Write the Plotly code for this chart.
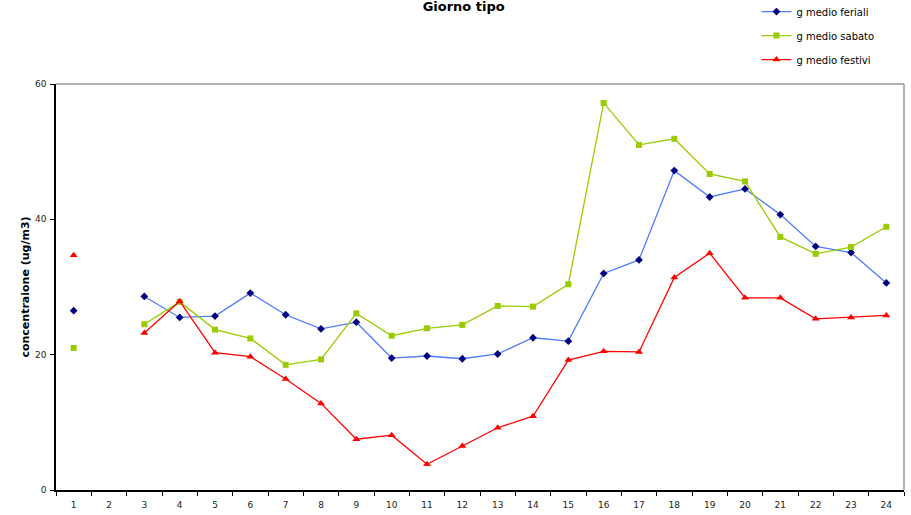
import plotly.graph_objects as go

hours = [str(h) for h in range(1, 25)]
feriali = [26.5, None, 28.6, 25.5, 25.7, 29.1, 25.9, 23.8, 24.8, 19.5, 19.8, 19.4,
           20.1, 22.5, 22.0, 32.0, 34.0, 47.2, 43.3, 44.5, 40.7, 36.0, 35.1, 30.6]
sabato = [21.0, None, 24.5, 27.8, 23.7, 22.4, 18.5, 19.3, 26.1, 22.8, 23.9, 24.4,
          27.2, 27.1, 30.4, 57.2, 51.0, 51.9, 46.7, 45.6, 37.4, 34.9, 35.9, 38.9]
festivi = [34.7, None, 23.2, 27.9, 20.3, 19.7, 16.4, 12.8, 7.5, 8.1, 3.8, 6.5,
           9.2, 10.9, 19.2, 20.5, 20.4, 31.4, 35.0, 28.4, 28.4, 25.3, 25.5, 25.8]
y_ticks = [0, 20, 40, 60]

FONT = "DejaVu Sans"

fig = go.Figure()
fig.add_trace(go.Scatter(x=hours, y=feriali, name="g medio feriali", mode="lines+markers",
                         line=dict(color="#4d7cff", width=1.3),
                         marker=dict(symbol="diamond", color="#000080", size=6),
                         legendgroup="a", connectgaps=False))
fig.add_trace(go.Scatter(x=hours, y=sabato, name="g medio sabato", mode="lines+markers",
                         line=dict(color="#99cc00", width=1.3),
                         marker=dict(symbol="square", color="#99cc00", size=6),
                         legendgroup="b", connectgaps=False))
fig.add_trace(go.Scatter(x=hours, y=festivi, name="g medio festivi", mode="lines+markers",
                         line=dict(color="#ff0000", width=1.3),
                         marker=dict(symbol="triangle-up", color="#ff0000", size=7),
                         legendgroup="c", connectgaps=False))

fig.update_layout(
    width=911, height=515,
    margin=dict(l=56, r=7, t=84, b=25, autoexpand=False),
    paper_bgcolor="white", plot_bgcolor="white",
    font=dict(family=FONT, size=9, color="#222222"),
    title=dict(text="<b>Giorno tipo</b>", x=0.509, xanchor="center", y=0.996, yanchor="top",
               pad=dict(t=0, b=0), font=dict(family=FONT, size=13, color="black")),
    legend=dict(x=0.826, xanchor="left", y=1.214, yanchor="top",
                font=dict(family=FONT, size=10, color="black"),
                traceorder="grouped", tracegroupgap=5, itemwidth=30,
                bgcolor="rgba(0,0,0,0)"),
    xaxis=dict(type="category", categoryorder="array", categoryarray=hours,
               tickson="boundaries", ticks="outside", ticklen=4, tickcolor="black",
               showline=True, linecolor="black", linewidth=1.5, showgrid=False,
               zeroline=False, ticklabelstandoff=5,
               tickfont=dict(family=FONT, size=9, color="#222222"),
               range=[-0.5, 23.5]),
    yaxis=dict(range=[0, 60], tickvals=y_ticks, ticks="outside", ticklen=4, tickcolor="black",
               showline=True, linecolor="black", linewidth=1.5, showgrid=False,
               zeroline=False, ticklabelstandoff=2,
               tickfont=dict(family=FONT, size=9, color="#222222"),
               title=dict(text="<b>concentraione (ug/m3)</b>", standoff=3,
                          font=dict(family=FONT, size=11, color="black"))),
    shapes=[
        dict(type="line", xref="paper", yref="paper", x0=0, x1=1, y0=1, y1=1,
             line=dict(color="#999999", width=1.5)),
        dict(type="line", xref="paper", yref="paper", x0=1, x1=1, y0=0, y1=1,
             line=dict(color="#999999", width=1.5)),
    ],
)

fig.write_html("out.html", config={"displayModeBar": False},
               post_script="document.body.style.margin='0';")
